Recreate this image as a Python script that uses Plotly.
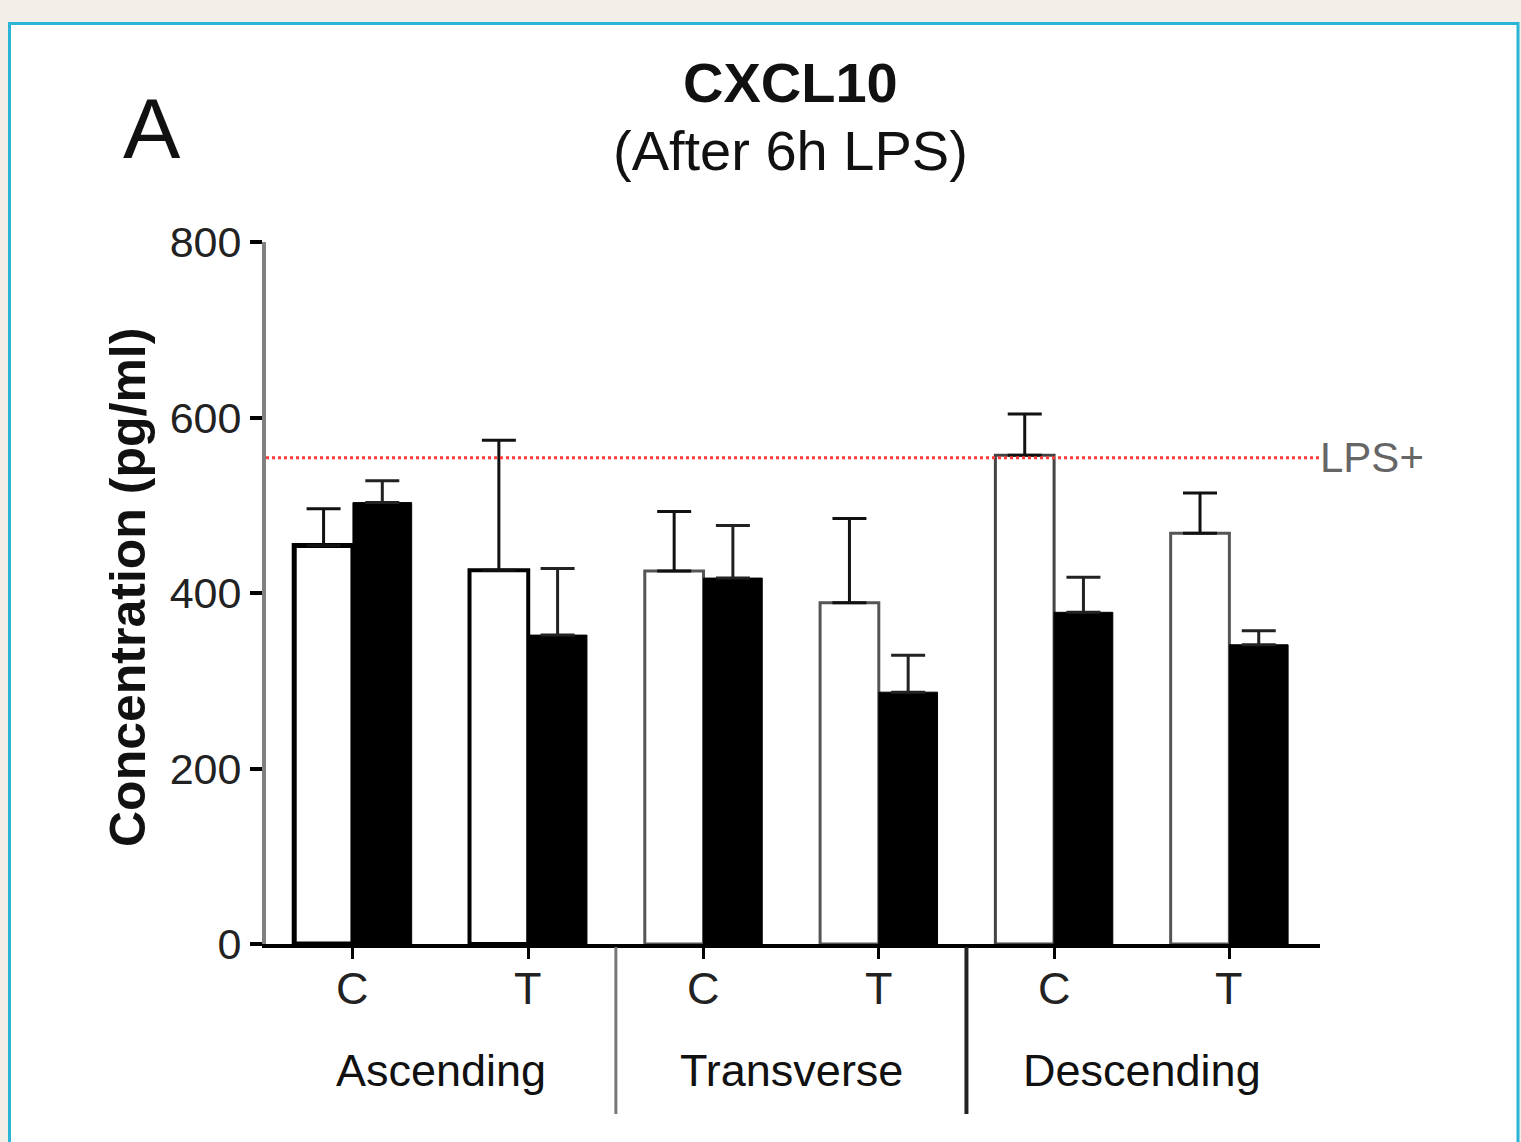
import plotly.graph_objects as go

# ---- data ----
groups = ["Ascending", "Transverse", "Descending"]
tick_labels = ["C", "T", "C", "T", "C", "T"]
white_vals = [454, 426, 425, 389, 557, 468]
white_err = [42, 148, 68, 96, 47, 46]
black_vals = [503, 352, 417, 287, 378, 341]
black_err = [25, 76, 60, 42, 40, 16]
lps_level = 554
y_ticks = [0, 200, 400, 600, 800]

W, H = 1521, 1142
xpos = list(range(len(tick_labels)))

def px_x(p):
    return p / W

def px_y(p):
    return 1 - p / H

fig = go.Figure()

fig.add_trace(go.Bar(
    x=xpos, y=white_vals, width=0.335, offset=-0.335,
    marker=dict(color="white",
                line=dict(color=["#000", "#000", "#555", "#555", "#444", "#555"],
                          width=[5, 4, 3, 3, 3, 3])),
    error_y=dict(type="data", array=white_err, arrayminus=[0]*6, symmetric=False,
                 color="#111", thickness=3, width=17),
    showlegend=False,
))
fig.add_trace(go.Bar(
    x=xpos, y=black_vals, width=0.335, offset=0,
    marker=dict(color="black", line=dict(color="black", width=1)),
    error_y=dict(type="data", array=black_err, arrayminus=[0]*6, symmetric=False,
                 color="#222", thickness=3, width=17),
    showlegend=False,
))

# LPS+ reference line
fig.add_shape(type="line", xref="x", yref="y", x0=-0.496, x1=5.517,
              y0=lps_level, y1=lps_level,
              line=dict(color="#ff3b3b", width=3, dash="dot"))
fig.add_annotation(x=px_x(1318), y=lps_level, xref="paper", yref="y",
                   text="LPS+", showarrow=False, xanchor="left", yanchor="middle",
                   font=dict(family="Liberation Sans, Arial", size=42, color="#666"))

# panel background with cyan border
fig.add_shape(type="rect", xref="paper", yref="paper",
              x0=px_x(9.5), x1=px_x(1518), y0=-0.05, y1=px_y(23.5),
              fillcolor="white", line=dict(color="#2ab4d6", width=3), layer="below")

# group separators
for sep, col, wd in [(1.5, "#777", 3), (3.5, "#222", 4)]:
    fig.add_shape(type="line", xref="x", yref="paper", x0=sep, x1=sep,
                  y0=px_y(947), y1=px_y(1114), line=dict(color=col, width=wd))

# category tick labels (C / T)
for xp, lab in zip(xpos, tick_labels):
    fig.add_annotation(x=xp, y=px_y(988), xref="x", yref="paper",
                       text=lab, showarrow=False, xanchor="center", yanchor="middle",
                       font=dict(family="Liberation Sans, Arial", size=45, color="#222"))

# group labels
for i, g in enumerate(groups):
    fig.add_annotation(x=2 * i + 0.5, y=px_y(1070), xref="x", yref="paper",
                       text=g, showarrow=False, xanchor="center", yanchor="middle",
                       font=dict(family="Liberation Sans, Arial", size=45, color="#111"))

# titles
fig.add_annotation(x=px_x(790), y=px_y(82), xref="paper", yref="paper",
                   text="<b>CXCL10</b>", showarrow=False, xanchor="center", yanchor="middle",
                   font=dict(family="Liberation Sans, Arial", size=56, color="#111"))
fig.add_annotation(x=px_x(790), y=px_y(150), xref="paper", yref="paper",
                   text="(After 6h LPS)", showarrow=False, xanchor="center", yanchor="middle",
                   font=dict(family="Liberation Sans, Arial", size=56, color="#111"))
fig.add_annotation(x=px_x(152), y=px_y(128), xref="paper", yref="paper",
                   text="A", showarrow=False, xanchor="center", yanchor="middle",
                   font=dict(family="Liberation Sans, Arial", size=86, color="#111"))
fig.add_annotation(x=px_x(128), y=px_y(588), xref="paper", yref="paper",
                   text="<b>Concentration (pg/ml)</b>", showarrow=False,
                   textangle=-90, xanchor="center", yanchor="middle",
                   font=dict(family="Liberation Sans, Arial", size=50, color="#111"))

fig.update_layout(
    width=W, height=H,
    margin=dict(l=0, r=0, t=0, b=0),
    paper_bgcolor="#f2efe9",
    plot_bgcolor="rgba(0,0,0,0)",
    barmode="overlay",
    xaxis=dict(domain=[px_x(266), px_x(1320)], range=[-0.496, 5.517],
               automargin=False,
               tickvals=xpos, showticklabels=False,
               showline=True, linecolor="black", linewidth=4,
               ticks="outside", ticklen=11, tickwidth=3, tickcolor="black",
               showgrid=False, zeroline=False),
    yaxis=dict(domain=[px_y(944), px_y(242)], range=[0, 800],
               automargin=False,
               tickvals=y_ticks,
               showline=True, linecolor="#808080", linewidth=4,
               ticks="outside", ticklen=12, tickwidth=4, tickcolor="black",
               showgrid=False, zeroline=False,
               tickfont=dict(family="Liberation Sans, Arial", size=43, color="#222")),
)

fig.write_html("out.html")
